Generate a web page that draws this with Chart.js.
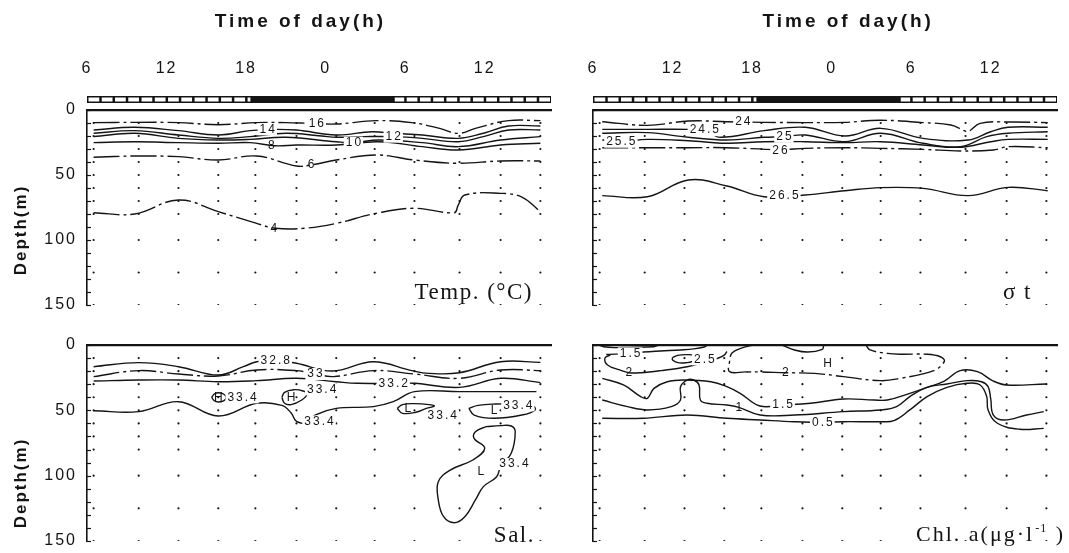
<!DOCTYPE html>
<html>
<head>
<meta charset="utf-8">
<script src="https://cdn.jsdelivr.net/npm/chart.js@4.4.1/dist/chart.umd.min.js"></script>
<style>
html,body{margin:0;padding:0;background:#fff;}
#wrap{position:relative;width:1069px;height:553px;overflow:hidden;background:#fff;}
canvas{position:absolute;}
</style>
</head>
<body>
<div id="wrap">
<canvas id="cTemp" width="572" height="322" style="left:0;top:0"></canvas>
<canvas id="cSigma" width="497" height="322" style="left:572px;top:0"></canvas>
<canvas id="cSal" width="572" height="231" style="left:0;top:322px"></canvas>
<canvas id="cChl" width="497" height="231" style="left:572px;top:322px"></canvas>
</div>
<script>
// ---------- axes / sampling ----------
const tickHours = [6, 12, 18, 24, 30, 36];
const depthLabels = [0, 50, 100, 150];
const depthMinorTicks = [0,10,20,30,40,50,60,70,80,90,100,110,120,130,140,150];
const sampleHours = [6.5, 9.9, 12.9, 15.9, 18.7, 21.8, 24.8, 27.7, 30.7, 34.1, 37.2, 40.2];
const sampleDepths = [10, 20, 30, 40, 50, 60, 70, 80, 100, 125, 150];
const hourMin = 6, hourMax = 41;
const nightStart = 18.4, nightEnd = 29.1;

// ---------- Temperature contours [hour, depth] ----------
const temp16 = [[6.5,9.7],[9.6,9.5],[12.9,9.7],[15.9,11.3],[18.8,9.7],[21.0,9.7],[22.9,10.3],[24.8,10.8],[27.8,8.2],[30.5,9.7],[32.6,14.1],[34.0,18],[35.3,14.1],[37.8,8.2],[40.2,8.2]];
const temp14 = [[6.5,15.4],[9.6,13.3],[12.9,15.9],[15.9,19.2],[18.3,15.9],[19.9,14.9],[21.8,15.4],[24.8,19.2],[27.5,16.7],[29.1,17.9],[31.3,19.2],[34.0,21.8],[35.9,17.9],[37.8,12.3],[40.2,12.3]];
const temp12 = [[6.5,17.9],[9.6,15.9],[12.9,19.2],[15.9,21.8],[18.3,20.5],[21.0,17.9],[23.7,20],[24.8,21],[26.9,20.5],[29.1,20.5],[31.3,21.8],[34.0,24.4],[35.9,20.5],[37.8,15.4],[40.2,15.4]];
const temp10 = [[6.5,20.5],[9.6,17.9],[12.9,21.8],[15.9,23.1],[18.3,22.6],[21.0,21],[24.8,24.4],[26.1,25.1],[28.0,23.1],[31.3,25.1],[34.0,28.2],[37.2,23.1],[40.2,20.5]];
const temp8 = [[6.5,25.1],[9.6,24.4],[12.9,25.1],[15.9,25.6],[18.3,25.1],[20.2,27.5],[21.8,26.9],[24.8,26.9],[28.0,24.4],[31.3,28.2],[34.0,30.8],[37.2,26.9],[40.2,25.6]];
const temp6 = [[6.5,36.4],[9.6,35.4],[12.9,35.9],[15.9,38.5],[18.8,35.4],[21.8,43.1],[22.9,42.3],[24.8,38.5],[27.8,34.6],[30.7,38.5],[34.0,41],[37.2,39.2],[40.2,39.2]];
const temp4 = [[6.5,79],[9.6,80],[12.9,69.2],[15.9,78.2],[18.8,87.2],[20.2,91],[22.4,91],[24.8,87.2],[27.8,79.5],[30.7,75.6],[33.7,79],[34.0,73.1],[34.5,65.4],[37.2,64.1],[38.8,67],[40.2,78.2]];
const tempLabels = [['16',23.3,10.3],['14',19.6,14.9],['12',29.1,20.5],['10',26.1,25.1],['8',19.9,27.5],['6',22.9,42.3],['4',20.1,91]];

// ---------- Sigma-t contours ----------
const sig24 = [[6.7,9],[10.1,11.8],[13.2,8.5],[16.1,9],[18.9,9.5],[22.0,9.7],[25.0,9.5],[27.7,7.9],[30.9,9.7],[33.0,11.5],[34.0,15.9],[34.3,16.7],[35.2,10.3],[37.3,9.2],[40.3,9.7]];
const sig245 = [[6.7,14.9],[10.1,14.9],[13.2,14.9],[14.4,15.5],[15.6,21],[18.9,15.9],[22.0,13.3],[25.0,20],[27.7,14.1],[30.9,21.8],[34.3,23.1],[36.0,16.7],[37.3,13.3],[40.3,13.3]];
const sig25 = [[6.7,17.9],[10.1,17.4],[13.2,21],[16.1,23.1],[18.9,21],[20.4,20.5],[22.0,19.2],[25.0,24.4],[27.7,17.9],[30.9,25.6],[33.7,28.2],[35.7,20.5],[37.3,17.9],[40.3,16.7]];
const sig255 = [[6.7,23.1],[8.1,24.4],[10.1,22.6],[13.2,23.6],[16.1,25.6],[18.9,24.4],[22.0,24.4],[25.0,25.1],[27.7,24.4],[30.9,26.9],[33.7,28.7],[36.0,24.4],[37.3,22.6],[40.3,22.6]];
const sig26 = [[6.7,29],[10.1,29],[13.2,29],[16.1,29],[20.1,30.5],[22.0,29.5],[25.0,29],[27.7,29.5],[30.9,30.3],[33.7,31.5],[36.2,30.8],[37.3,28.2],[40.3,29]];
const sig265 = [[6.7,65.9],[10.1,66.7],[13.2,53.8],[16.1,58.5],[18.9,66.7],[22.0,65.4],[25.0,62.1],[27.7,59.7],[30.9,60.3],[34.3,65.9],[37.3,59.5],[40.3,62.1]];
const sigLabels = [['24',17.3,9],['24.5',14.4,15.5],['25',20.4,20.5],['25.5',8.1,24.4],['26',20.1,31.5],['26.5',20.4,65.9]];

// ---------- Salinity contours ----------
const sal328 = [[6.5,16.6],[9.9,13.5],[12.9,16.6],[15.9,23],[17.8,16.6],[18.8,12.8],[20.2,11.8],[21.8,14],[24.5,19.9],[27.6,12.8],[30.5,19.6],[31.8,21.7],[34.1,21.2],[37.2,12.8],[40.2,13.3]];
const sal33 = [[6.5,24.2],[9.9,19.6],[12.9,22.2],[15.9,23.7],[18.8,19.1],[21.8,19.6],[23.2,22.2],[24.6,24.2],[27.6,19.6],[30.7,22.2],[34.1,25.5],[37.2,19.1],[40.2,19.6]];
const sal332 = [[6.5,27.6],[9.9,26.8],[12.9,26.8],[15.9,28.1],[18.8,27.3],[21.8,25.5],[24.8,28.1],[26.4,29.3],[29.1,29.3],[30.7,29.3],[34.1,32.4],[37.2,25.5],[40.2,28.8]];
const sal334 = [[6.5,50.3],[9.9,51],[12.9,43.4],[15.9,54.3],[18.8,44.6],[20.7,46.2],[21.4,52],[21.8,58.5],[22.6,59.4],[23.2,53.6],[24.8,48.5],[27.6,47.2],[29.1,43.4],[30.7,35.7],[34.1,35.7],[37.2,35.7],[39.9,35.7]];
const salHigh1 = [[15.4,40.1],[15.6,37.5],[15.9,36.5],[16.3,37.5],[16.5,40.1],[16.3,42.7],[15.9,43.6],[15.6,42.7],[15.4,40.1]];
const salHigh2 = [[20.7,40.1],[20.9,36.2],[21.6,34.2],[22.3,35.2],[22.6,37.5],[22.2,42.1],[21.4,45.6],[20.9,44.6],[20.7,40.1]];
const salLow1 = [[29.4,48.5],[29.8,45.6],[30.7,44.9],[31.8,45.6],[32.2,46.7],[31.6,48.5],[30.8,51.5],[29.8,52.3],[29.4,48.5]];
const salLow2 = [[34.8,48.5],[35.5,46.2],[36.8,45.2],[38.3,45.2],[39.6,46.2],[39.8,49.7],[38.8,53.6],[36.7,56.1],[35.2,53.6],[34.8,48.5]];
const salLow3 = [[36.1,62.5],[37.2,61.7],[38.0,62],[38.3,66.3],[38.0,82.9],[37.2,93.1],[36.9,100.8],[35.9,108.4],[35.3,118.6],[34.5,131.4],[33.7,136],[32.9,131.4],[32.5,118.6],[32.5,104.6],[33.4,95.7],[35.1,88],[36.0,79.1],[35.2,71.4],[35.3,66.3],[36.1,62.5]];
const salLabels = [['32.8',20.2,11.8],['33',23.2,22.2],['33.2',29.1,29.3],['H',15.9,40.1],['33.4',17.7,40.1],['H',21.4,40.1],['33.4',23.7,33.9],['33.4',23.5,58.5],['L',30.2,48.8],['33.4',32.8,54.3],['L',36.7,50.5],['33.4',38.5,46.2],['L',35.7,96.9],['33.4',38.2,91.1]];

// ---------- Chlorophyll a contours ----------
const chlTopArc = [[6.5,0.3],[6.8,1.3],[7.6,2],[8.6,1.8],[10.6,1.3],[10.9,0.3]];
const chl15a = [[7.0,7.3],[8.8,6.4],[9.8,5.4],[11.1,4.6],[12.6,3.8],[13.6,3],[14.4,1.5],[14.6,0.3]];
const chl2a = [[7.3,7.7],[6.9,10],[7.1,15.3],[8.0,19.1],[8.7,21.2],[9.6,21.2],[11.1,19.6],[13.1,16.6],[14.6,12.8],[15.4,10.2],[15.9,7.7],[16.1,5]];
const chl25 = [[12.0,9.6],[12.4,7.9],[13.1,7.4],[13.6,8],[13.8,10.5],[13.5,12.5],[13.1,13.5],[12.4,13.5],[12.0,11.5],[12.0,9.6]];
const chl2H = [[18.0,0.3],[17.3,2],[16.5,6],[16.3,12.8],[16.3,20.4],[17.5,20.6],[18.6,20.6],[20.5,21.2],[22.7,21.7],[24.9,24.2],[27.7,27.3],[29.2,25.5],[31.7,19.6],[32.5,12.5],[32.2,9],[31.2,7.1],[29.2,7.1],[28.2,6.4],[26.9,3.8],[26.6,0.3]];
const chlArc = [[20.3,0.3],[21.2,3.8],[22.2,5.4],[23.3,3.3],[23.4,0.3]];
const chl15 = [[6.7,25.5],[8.3,30.6],[9.6,39.5],[10.1,40.8],[10.6,33.2],[11.6,28.1],[12.9,26.8],[14.9,28.1],[16.1,31.9],[17.1,37],[18.6,46.7],[20.3,45.9],[22.4,44.6],[24.9,41.3],[27.2,42.1],[28.2,42.1],[29.9,37],[31.2,32.4],[32.5,27.6],[33.7,19.6],[35.0,20.4],[36.2,27.6],[37.2,30.6],[40.2,29.8]];
const chl1 = [[6.7,42.1],[8.6,47.2],[10.1,49.7],[11.9,47.2],[12.6,42.1],[12.6,31.9],[13.1,26.8],[13.6,26.8],[14.0,30.6],[14.1,42.1],[14.6,44.6],[16.1,45.9],[17.0,47.7],[18.6,53.6],[21.2,53.6],[24.9,51],[27.7,49.7],[28.9,47.2],[29.9,39.5],[31.2,32.4],[32.7,29.8],[34.2,27.3],[35.3,28.1],[35.8,31.9],[36.0,41.3],[36.2,53.6],[37.0,57.4],[38.7,53.6],[40.0,51]];
const chl05 = [[6.7,56.1],[9.8,56.1],[13.1,53.6],[16.1,56.1],[18.6,57.4],[21.2,58.7],[23.3,59.2],[24.9,58.7],[27.7,58.7],[28.7,57.9],[29.9,49.7],[31.2,39.5],[32.7,32.4],[34.2,29.3],[35.2,30.6],[35.7,39.5],[35.8,49.7],[36.5,59.9],[38.2,64.5],[40.0,63.8]];
const chlLabels = [['1.5',8.8,6.4],['2.5',14.4,11],['2',8.7,21.2],['H',23.7,14],['2',20.5,21.2],['1',17.0,47.7],['1.5',20.3,45.9],['0.5',23.3,59.2]];

// ---------- rendering ----------
const SANS = '"Liberation Sans", Arial, Helvetica, sans-serif';
const SERIF = '"Liberation Serif", "Times New Roman", serif';
const INK = '#141414';
const DASH = [26, 4, 3, 4];

const samplePoints = [];
sampleHours.forEach(h => sampleDepths.forEach(d => samplePoints.push({x: h, y: d})));

function lineSet(pts, dashed) {
  return {
    type: 'line',
    data: pts.map(p => ({x: p[0], y: p[1]})),
    borderColor: INK, borderWidth: 1.4, borderDash: dashed ? DASH : [],
    pointRadius: 0, tension: 0.4, fill: false, order: 1
  };
}

function decorPlugin(cfg) {
  return {
    id: 'decor',
    beforeDraw(chart) { chart.ctx.letterSpacing = '2px'; },
    afterDraw(chart) {
      const ctx = chart.ctx, xs = chart.scales.x, ys = chart.scales.y, ca = chart.chartArea;
      ctx.save();
      ctx.letterSpacing = '0px';
      // inward minor ticks on depth axis
      ctx.strokeStyle = INK; ctx.lineWidth = 1.2;
      depthMinorTicks.forEach(v => {
        const py = Math.round(ys.getPixelForValue(v)) + 0.5;
        ctx.beginPath(); ctx.moveTo(ca.left, py); ctx.lineTo(ca.left + 4, py); ctx.stroke();
      });
      // day / night bar
      if (cfg.bar) {
        const y0 = ca.top - 14, y1 = ca.top - 7;
        const a = xs.getPixelForValue(hourMin), b = xs.getPixelForValue(hourMax);
        ctx.fillStyle = INK; ctx.fillRect(a, y0, b - a, y1 - y0);
        ctx.fillStyle = '#fff';
        for (let h = hourMin; h < hourMax; h++) {
          [[hourMin, nightStart], [nightEnd, hourMax]].forEach(([s, e]) => {
            const lo = Math.max(h, s), hi = Math.min(h + 1, e);
            if (hi - lo > 0.15) {
              const p = xs.getPixelForValue(lo), q = xs.getPixelForValue(hi);
              ctx.fillRect(p + 1.5, y0 + 1.5, q - p - 2.5, y1 - y0 - 3);
            }
          });
        }
      }
      // contour labels
      ctx.font = '12px ' + SANS; ctx.letterSpacing = '2px';
      ctx.textBaseline = 'middle'; ctx.textAlign = 'center';
      cfg.labels.forEach(([t, h, d]) => {
        const px = xs.getPixelForValue(h), py = ys.getPixelForValue(d);
        const w = ctx.measureText(t).width;
        if (t.length > 1) { ctx.fillStyle = '#fff'; ctx.fillRect(px - w / 2 - 1, py - 6, w + 2, 12); }
        ctx.fillStyle = INK; ctx.fillText(t, px + 1, py);
      });
      // axis titles
      if (cfg.timeTitle) {
        ctx.font = 'bold 19px ' + SANS; ctx.letterSpacing = '3px';
        ctx.textAlign = 'center'; ctx.textBaseline = 'middle';
        ctx.fillText('Time of day(h)', ca.left + cfg.timeTitle * ca.width, 22);
      }
      if (cfg.depthTitleY) {
        ctx.save();
        ctx.font = 'bold 17px ' + SANS; ctx.letterSpacing = '2px';
        ctx.translate(21, cfg.depthTitleY); ctx.rotate(-Math.PI / 2);
        ctx.textAlign = 'center'; ctx.textBaseline = 'middle';
        ctx.fillText('Depth(m)', 0, 0);
        ctx.restore();
      }
      // panel name
      ctx.textAlign = 'right'; ctx.textBaseline = 'alphabetic';
      ctx.font = '23px ' + SERIF; ctx.letterSpacing = '1.5px';
      const nx = ca.right + cfg.nameDx, ny = ca.bottom + cfg.nameDy;
      if (cfg.name === 'chl') {
        ctx.font = '22px ' + SERIF; ctx.letterSpacing = '2px';
        const tail = ' )';
        const wTail = ctx.measureText(tail).width;
        ctx.fillText(tail, nx, ny);
        ctx.font = '12px ' + SERIF; ctx.letterSpacing = '1px';
        const sup = '-1';
        const wSup = ctx.measureText(sup).width;
        ctx.fillText(sup, nx - wTail - 1, ny - 9);
        ctx.font = '22px ' + SERIF; ctx.letterSpacing = '2px';
        ctx.fillText('Chl. a(μg·l', nx - wTail - wSup - 2, ny);
      } else {
        ctx.fillText(cfg.name, nx, ny);
      }
      ctx.restore();
    }
  };
}

function buildPanel(id, cfg) {
  const datasets = [{
    type: 'scatter', data: samplePoints, pointRadius: 1.1, pointBackgroundColor: INK,
    pointBorderWidth: 0, showLine: false, order: 2
  }].concat(cfg.lines.map(([pts, dashed]) => lineSet(pts, dashed)));
  return new Chart(document.getElementById(id), {
    type: 'scatter',
    data: { datasets },
    options: {
      responsive: false, animation: false, events: [],
      layout: { padding: { left: 0, right: cfg.padR, top: 0, bottom: cfg.padB } },
      plugins: { legend: { display: false }, tooltip: { enabled: false } },
      scales: {
        x: {
          type: 'linear', position: 'top', min: hourMin, max: hourMax,
          afterBuildTicks: s => { s.ticks = tickHours.map(v => ({ value: v })); },
          afterFit: s => { s.height = cfg.xH; s.paddingLeft = 0; s.paddingRight = 0; },
          grid: { color: 'transparent', drawTicks: false },
          border: { display: true, color: INK, width: 2.2 },
          ticks: { display: cfg.showX, padding: 32, color: INK, autoSkip: false, maxRotation: 0,
                   font: { family: SANS, size: 16 }, callback: v => String(v % 24) }
        },
        y: {
          type: 'linear', reverse: true, min: 0, max: 150,
          afterBuildTicks: s => { s.ticks = depthLabels.map(v => ({ value: v })); },
          afterFit: s => { s.width = cfg.yW; s.paddingTop = 0; s.paddingBottom = 0; },
          grid: { color: 'transparent', drawTicks: false },
          border: { display: true, color: INK, width: 1.6 },
          ticks: { display: cfg.showY, padding: 10, color: INK, font: { family: SANS, size: 16 } }
        }
      }
    },
    plugins: [decorPlugin(cfg)]
  });
}

buildPanel('cTemp', {
  lines: [[temp16, true], [temp14], [temp12], [temp10], [temp8], [temp6, true], [temp4, true]],
  labels: tempLabels, bar: true, timeTitle: 0.46, depthTitleY: 230,
  name: 'Temp. (°C)', nameDx: -18, nameDy: -6,
  padR: 21, padB: 17, xH: 110, yW: 87, showX: true, showY: true
});
buildPanel('cSigma', {
  lines: [[sig24, true], [sig245], [sig25], [sig255], [sig26, true], [sig265]],
  labels: sigLabels, bar: true, timeTitle: 0.55, depthTitleY: null,
  name: 'σ t', nameDx: -25, nameDy: -6,
  padR: 12, padB: 17, xH: 110, yW: 21, showX: true, showY: false
});
buildPanel('cSal', {
  lines: [[sal328], [sal33, true], [sal332], [sal334], [salHigh1], [salHigh2], [salLow1], [salLow2], [salLow3]],
  labels: salLabels, bar: false, timeTitle: null, depthTitleY: 161,
  name: 'Sal.', nameDx: -16, nameDy: 1,
  padR: 21, padB: 12, xH: 23, yW: 87, showX: false, showY: true
});
buildPanel('cChl', {
  lines: [[chlTopArc], [chl15a], [chl2a], [chl25], [chl2H, true], [chlArc], [chl15], [chl1], [chl05]],
  labels: chlLabels, bar: false, timeTitle: null, depthTitleY: null,
  name: 'chl', nameDx: 8, nameDy: 0,
  padR: 12, padB: 12, xH: 23, yW: 21, showX: false, showY: false
});
</script>
</body>
</html>
